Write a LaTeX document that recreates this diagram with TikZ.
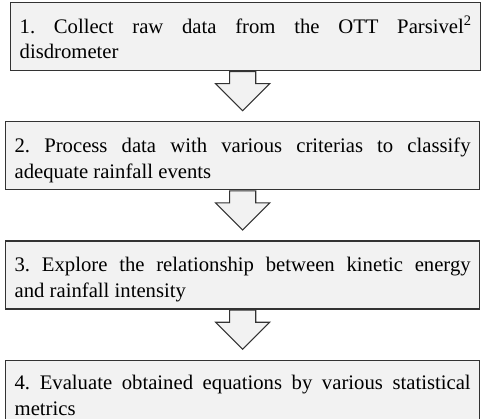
\documentclass[tikz,border=0pt]{standalone}
\usepackage{fontspec}
\setmainfont{Liberation Serif}
\usetikzlibrary{shapes.arrows, positioning}

\definecolor{boxfill}{HTML}{F2F2F2}
\definecolor{boxline}{HTML}{333333}

\begin{document}
\begin{tikzpicture}[
    x=1pt, y=-1pt,
    node distance=50pt,
    % Styles
    step_box/.style={draw=boxline, fill=boxfill, line width=1.3pt, rectangle,
        text width=456pt, inner xsep=9pt, inner ysep=0pt,
        text height=31pt, text depth=37pt, align=justify,
        font=\fontsize{20.7}{25.5}\selectfont\frenchspacing},
    flow_arrow/.style={single arrow, draw=boxline, fill=boxfill, line width=1.1pt,
        shape border rotate=270, minimum height=35pt, minimum width=53pt,
        single arrow head extend=14pt, inner sep=12.5pt, anchor=tail}
]
    \useasboundingbox (0,0) rectangle (481,419);
    \hyphenpenalty=10000

    % 1. PROCESSING STEPS
    \node[step_box, anchor=north west] (step2) at (5,121)
        {2. Process data with various criterias to classify\linebreak adequate rainfall events};
    \node[step_box, text width=452pt, above=of step2, xshift=3pt] (step1)
        {1. Collect raw data from the OTT Parsivel\textsuperscript{2}\linebreak disdrometer};
    \node[step_box, below=of step2] (step3)
        {3. Explore the relationship between kinetic energy\linebreak and rainfall intensity};
    % last box is a bit shorter
    \node[step_box, text height=29.5pt, text depth=31pt, below=50pt of step3.south, anchor=north] (step4)
        {4. Evaluate obtained equations by various statistical\linebreak metrics};

    % 2. BLOCK ARROWS between the steps
    \node[flow_arrow] (arrow1) at (step1.south -| step2.south) {};
    \node[flow_arrow] (arrow2) at (step2.south) {};
    \node[flow_arrow] (arrow3) at (step3.south) {};

\end{tikzpicture}
\end{document}
